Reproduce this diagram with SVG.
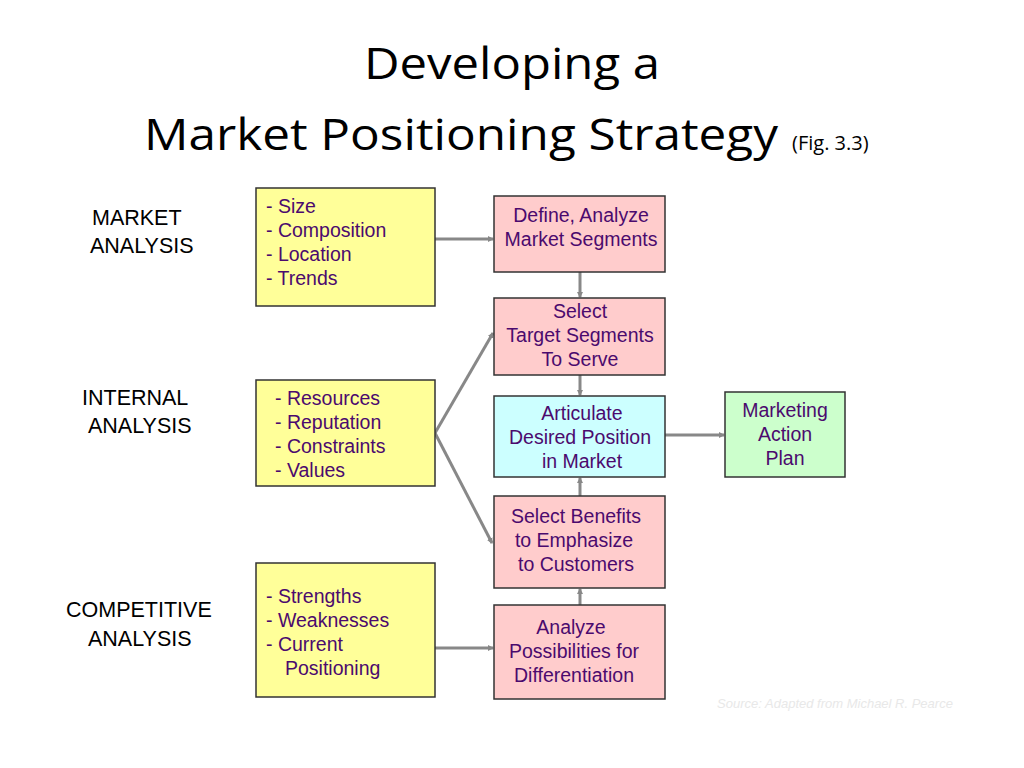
<svg xmlns="http://www.w3.org/2000/svg" width="1024" height="768" viewBox="0 0 1024 768">
<style>
.t{font-family:"Open Sans","Liberation Sans",sans-serif;fill:#000}
.b{stroke:#333;stroke-width:1.5}
.y{fill:#ffff99}.p{fill:#ffcccc}.c{fill:#ccffff}.g{fill:#ccffcc}
.n{font-family:"Liberation Sans",Arial,sans-serif;font-size:19.5px;fill:#4b0a6e}
.l{font-family:"Liberation Sans",Arial,sans-serif;font-size:21.5px;fill:#000}
.k{stroke:#888;stroke-width:3;fill:none;marker-end:url(#a)}
</style>
<defs><marker id="a" markerWidth="6" markerHeight="6" refX="5" refY="3" orient="auto" markerUnits="userSpaceOnUse"><path d="M0,0L6,3L0,6z" fill="#888"/></marker></defs>
<rect width="1024" height="768" fill="#fff"/>
<text class="t" font-size="44" x="512" y="79" text-anchor="middle" textLength="296" lengthAdjust="spacingAndGlyphs">Developing a</text>
<text class="t" font-size="44" x="144" y="150" textLength="634" lengthAdjust="spacingAndGlyphs">Market Positioning Strategy</text>
<text class="t" font-size="20" x="792" y="150">(Fig. 3.3)</text>
<text class="l" x="92" y="225">MARKET</text><text class="l" x="90" y="253">ANALYSIS</text>
<text class="l" x="82" y="405">INTERNAL</text><text class="l" x="88" y="433">ANALYSIS</text>
<text class="l" x="66" y="617">COMPETITIVE</text><text class="l" x="88" y="646">ANALYSIS</text>
<g id="connectors">
<line class="k" x1="435" y1="239" x2="493" y2="239"/>
<line class="k" x1="435" y1="433" x2="493" y2="333"/>
<line class="k" x1="435" y1="433" x2="492" y2="543"/>
<line class="k" x1="435" y1="648" x2="493" y2="648"/>
<line class="k" x1="580" y1="272" x2="580" y2="297"/>
<line class="k" x1="580" y1="375" x2="580" y2="395"/>
<line class="k" x1="580" y1="496" x2="580" y2="478"/>
<line class="k" x1="580" y1="605" x2="580" y2="589"/>
<line class="k" x1="665" y1="435" x2="724" y2="435"/>
</g>
<g id="market"><rect class="b y" x="256" y="188" width="179" height="118"/>
<text class="n" x="266" y="213">- Size</text><text class="n" x="266" y="237">- Composition</text><text class="n" x="266" y="261">- Location</text><text class="n" x="266" y="285">- Trends</text></g>
<g id="internal"><rect class="b y" x="256" y="380" width="179" height="106"/>
<text class="n" x="275" y="405">- Resources</text><text class="n" x="275" y="429">- Reputation</text><text class="n" x="275" y="453">- Constraints</text><text class="n" x="275" y="477">- Values</text></g>
<g id="competitive"><rect class="b y" x="256" y="563" width="179" height="134"/>
<text class="n" x="266" y="603">- Strengths</text><text class="n" x="266" y="627">- Weaknesses</text><text class="n" x="266" y="651">- Current</text><text class="n" x="285" y="675">Positioning</text></g>
<g id="define" text-anchor="middle"><rect class="b p" x="494" y="196" width="171" height="76"/>
<text class="n" x="581" y="222">Define, Analyze</text><text class="n" x="581" y="246">Market Segments</text></g>
<g id="select" text-anchor="middle"><rect class="b p" x="494" y="298" width="171" height="77"/>
<text class="n" x="580" y="318">Select</text><text class="n" x="580" y="342">Target Segments</text><text class="n" x="580" y="366">To Serve</text></g>
<g id="articulate" text-anchor="middle"><rect class="b c" x="494" y="396" width="171" height="81"/>
<text class="n" x="582" y="420">Articulate</text><text class="n" x="580" y="444">Desired Position</text><text class="n" x="582" y="468">in Market</text></g>
<g id="benefits" text-anchor="middle"><rect class="b p" x="494" y="496" width="171" height="92"/>
<text class="n" x="576" y="523">Select Benefits</text><text class="n" x="574" y="547">to Emphasize</text><text class="n" x="576" y="571">to Customers</text></g>
<g id="analyze" text-anchor="middle"><rect class="b p" x="494" y="605" width="171" height="94"/>
<text class="n" x="571" y="634">Analyze</text><text class="n" x="574" y="658">Possibilities for</text><text class="n" x="574" y="682">Differentiation</text></g>
<g id="plan" text-anchor="middle"><rect class="b g" x="725" y="392" width="120" height="85"/>
<text class="n" x="785" y="417">Marketing</text><text class="n" x="785" y="441">Action</text><text class="n" x="785" y="465">Plan</text></g>
<text x="835" y="708" text-anchor="middle" font-family="Liberation Sans,sans-serif" font-style="italic" font-size="13" fill="#e8e8e8">Source: Adapted from Michael R. Pearce</text>
</svg>
